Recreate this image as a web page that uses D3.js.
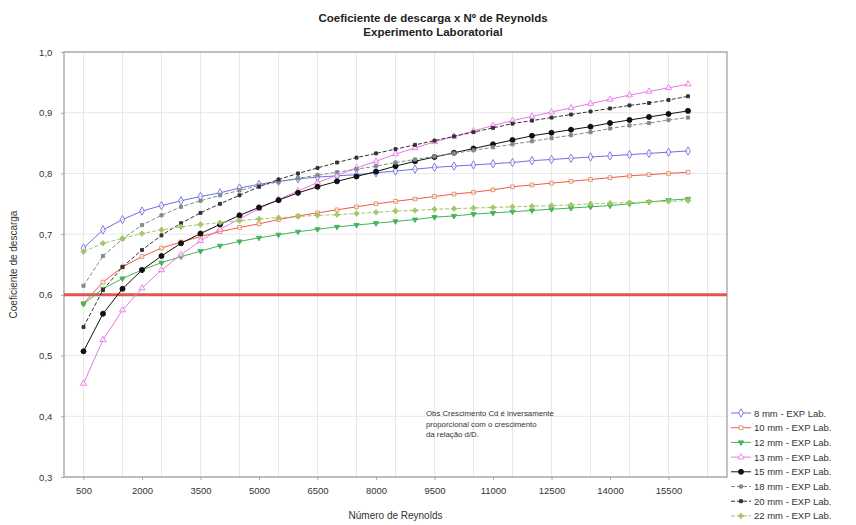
<!DOCTYPE html>
<html><head><meta charset="utf-8">
<script src="https://cdn.jsdelivr.net/npm/d3@7"></script>
<style>
body{margin:0;background:#fff;}
text{font-family:"Liberation Sans",Arial,sans-serif;}
</style></head>
<body><svg id="c" width="856" height="525"></svg>
<script>
const reynolds = [500,1000,1500,2000,2500,3000,3500,4000,4500,5000,5500,6000,6500,7000,7500,8000,8500,9000,9500,10000,10500,11000,11500,12000,12500,13000,13500,14000,14500,15000,15500,16000];
const cd8mm  = [0.677,0.707,0.724,0.738,0.747,0.755,0.762,0.768,0.776,0.782,0.787,0.791,0.794,0.796,0.798,0.801,0.804,0.807,0.810,0.812,0.814,0.816,0.818,0.821,0.823,0.825,0.827,0.829,0.831,0.833,0.835,0.837];
const cd10mm = [0.586,0.621,0.646,0.663,0.677,0.687,0.696,0.704,0.711,0.717,0.724,0.730,0.735,0.740,0.745,0.750,0.754,0.758,0.762,0.766,0.769,0.773,0.778,0.781,0.784,0.787,0.790,0.793,0.796,0.798,0.800,0.802];
const cd12mm = [0.585,0.610,0.627,0.641,0.653,0.663,0.672,0.681,0.688,0.694,0.699,0.704,0.708,0.712,0.715,0.718,0.721,0.724,0.728,0.730,0.733,0.735,0.737,0.739,0.741,0.743,0.745,0.747,0.750,0.753,0.756,0.758];
const cd13mm = [0.454,0.526,0.575,0.611,0.641,0.666,0.689,0.708,0.725,0.742,0.757,0.771,0.785,0.797,0.809,0.820,0.832,0.842,0.852,0.861,0.870,0.879,0.887,0.894,0.901,0.908,0.915,0.922,0.929,0.935,0.941,0.947];
const cd15mm = [0.507,0.569,0.610,0.641,0.664,0.685,0.701,0.716,0.731,0.744,0.756,0.768,0.778,0.787,0.795,0.803,0.812,0.820,0.827,0.834,0.841,0.848,0.855,0.862,0.867,0.872,0.877,0.883,0.888,0.893,0.898,0.903];
const cd18mm = [0.615,0.664,0.692,0.715,0.731,0.745,0.755,0.764,0.772,0.780,0.786,0.792,0.797,0.802,0.807,0.812,0.818,0.823,0.828,0.833,0.838,0.843,0.848,0.853,0.858,0.863,0.868,0.874,0.879,0.883,0.888,0.892];
const cd20mm = [0.547,0.608,0.646,0.674,0.698,0.718,0.735,0.750,0.764,0.778,0.790,0.800,0.809,0.818,0.826,0.833,0.840,0.847,0.854,0.861,0.868,0.875,0.882,0.887,0.892,0.897,0.902,0.907,0.912,0.916,0.921,0.927];
const cd22mm = [0.671,0.685,0.693,0.701,0.707,0.712,0.716,0.719,0.722,0.725,0.727,0.729,0.731,0.732,0.734,0.736,0.738,0.739,0.741,0.742,0.743,0.744,0.745,0.746,0.747,0.748,0.750,0.751,0.752,0.753,0.754,0.755];
const seriesNames = ["8 mm - EXP Lab.","10 mm - EXP Lab.","12 mm - EXP Lab.","13 mm - EXP Lab.","15 mm - EXP Lab.","18 mm - EXP Lab.","20 mm - EXP Lab.","22 mm - EXP Lab."];
const xTicks = [500,2000,3500,5000,6500,8000,9500,11000,12500,14000,15500];
const yTicks = [0.3,0.4,0.5,0.6,0.7,0.8,0.9,1.0];
const referenceCd = 0.6;
const titleLines = ["Coeficiente de descarga x Nº de Reynolds","Experimento Laboratorial"];
const noteLines = ["Obs Crescimento Cd  é inversamente","proporcional com o crescimento","da relação d/D."];

const allSeries = [cd8mm,cd10mm,cd12mm,cd13mm,cd15mm,cd18mm,cd20mm,cd22mm];
const styles = [
  {color:"#7070e0", sym:d3.symbolDiamond, size:20, fill:"none", dash:null},
  {color:"#f05a46", sym:d3.symbolSquare, size:14, fill:"none", dash:null, mcolor:"#e09060"},
  {color:"#44b35a", sym:d3.symbolTriangle, size:12, fill:"#44b35a", dash:null, rot:180},
  {color:"#e878e8", sym:d3.symbolTriangle, size:16, fill:"none", dash:null},
  {color:"#111111", sym:d3.symbolCircle, size:20, fill:"#111111", dash:null},
  {color:"#7f8c8c", sym:d3.symbolSquare, size:10, fill:"#7f8c8c", dash:"4,2"},
  {color:"#333333", sym:d3.symbolSquare, size:9, fill:"#333333", dash:"4,2"},
  {color:"#a2c664", sym:d3.symbolCross, size:12, fill:"#a2c664", dash:"4,2"}
];

const svg = d3.select("#c");
const m = {l:64, r:727, t:52, b:477};
const x = d3.scaleLinear().domain([0,17000]).range([m.l,m.r]);
const y = d3.scaleLinear().domain([0.3,1.0]).range([m.b,m.t]);

// grid
const gridX = d3.range(500,17000,1000);
svg.append("g").selectAll("line").data(gridX).join("line")
  .attr("x1",d=>x(d)).attr("x2",d=>x(d)).attr("y1",m.t).attr("y2",m.b)
  .attr("stroke","#e8e8e8").attr("stroke-width",1);
svg.append("g").selectAll("line").data(yTicks).join("line")
  .attr("x1",m.l).attr("x2",m.r).attr("y1",d=>y(d)).attr("y2",d=>y(d))
  .attr("stroke","#e8e8e8").attr("stroke-width",1);

// axes
const fmtY = d=>d3.format(".1f")(d).replace(".",",");
const ax = svg.append("g").attr("transform",`translate(0,${m.b})`)
  .call(d3.axisBottom(x).tickValues(xTicks).tickFormat(d3.format("d")).tickSize(3));
const ay = svg.append("g").attr("transform",`translate(${m.l},0)`)
  .call(d3.axisLeft(y).tickValues(yTicks).tickFormat(fmtY).tickSize(3));
[ax,ay].forEach(g=>{
  g.select(".domain").remove();
  g.selectAll("line").attr("stroke","#aaa");
  g.selectAll("text").attr("font-size",9.5).attr("fill","#333");
});
ax.selectAll("text").attr("dy","1.2em");
ay.selectAll("text").attr("dx","-0.6em");

// frame
svg.append("rect").attr("x",m.l).attr("y",m.t).attr("width",m.r-m.l).attr("height",m.b-m.t)
  .attr("fill","none").attr("stroke","#9a9a9a").attr("stroke-width",1.2);

// reference line
svg.append("line").attr("x1",m.l).attr("x2",m.r).attr("y1",y(referenceCd)).attr("y2",y(referenceCd))
  .attr("stroke","#e05555").attr("stroke-width",3);

// series
const line = d3.line().x((d,i)=>x(reynolds[i])).y(d=>y(d));
allSeries.forEach((s,k)=>{
  const st = styles[k];
  svg.append("path").datum(s).attr("d",line).attr("fill","none")
    .attr("stroke",st.color).attr("stroke-width",1).attr("stroke-dasharray",st.dash);
  svg.append("g").selectAll("path").data(s).join("path")
    .attr("d",d3.symbol().type(st.sym).size(st.size))
    .attr("transform",(d,i)=>`translate(${x(reynolds[i])},${y(d)})${st.rot?` rotate(${st.rot})`:""}`)
    .attr("fill",st.fill==="none"?"#fff":st.fill).attr("fill-opacity",st.fill==="none"?0.6:1)
    .attr("stroke",st.mcolor||st.color).attr("stroke-width",0.9);
});

// titles
svg.append("g").selectAll("text").data(titleLines).join("text")
  .attr("x",433).attr("y",(d,i)=>22+i*14).attr("text-anchor","middle")
  .attr("font-size",11.5).attr("font-weight","bold").attr("fill","#222").text(d=>d);
svg.append("text").attr("x",(m.l+m.r)/2).attr("y",519).attr("text-anchor","middle")
  .attr("font-size",10).attr("fill","#333").text("Número de Reynolds");
svg.append("text").attr("transform",`translate(17,${(m.t+m.b)/2}) rotate(-90)`)
  .attr("text-anchor","middle").attr("font-size",10).attr("fill","#333").text("Coeficiente de descarga");

// note
svg.append("g").selectAll("text").data(noteLines).join("text")
  .attr("x",426).attr("y",(d,i)=>416+i*10.5).attr("font-size",7.8).attr("fill","#333").text(d=>d);

// legend
const lg = svg.append("g");
seriesNames.forEach((n,k)=>{
  const st = styles[k], yy = 413 + k*14.7;
  lg.append("line").attr("x1",731).attr("x2",751).attr("y1",yy).attr("y2",yy)
    .attr("stroke",st.color).attr("stroke-width",1).attr("stroke-dasharray",st.dash);
  lg.append("path").attr("d",d3.symbol().type(st.sym).size(st.size)())
    .attr("transform",`translate(741,${yy})${st.rot?` rotate(${st.rot})`:""}`)
    .attr("fill",st.fill==="none"?"#fff":st.fill).attr("stroke",st.mcolor||st.color).attr("stroke-width",0.9);
  lg.append("text").attr("x",754).attr("y",yy+3.5).attr("font-size",9.5).attr("fill","#333").text(n);
});
</script></body></html>
